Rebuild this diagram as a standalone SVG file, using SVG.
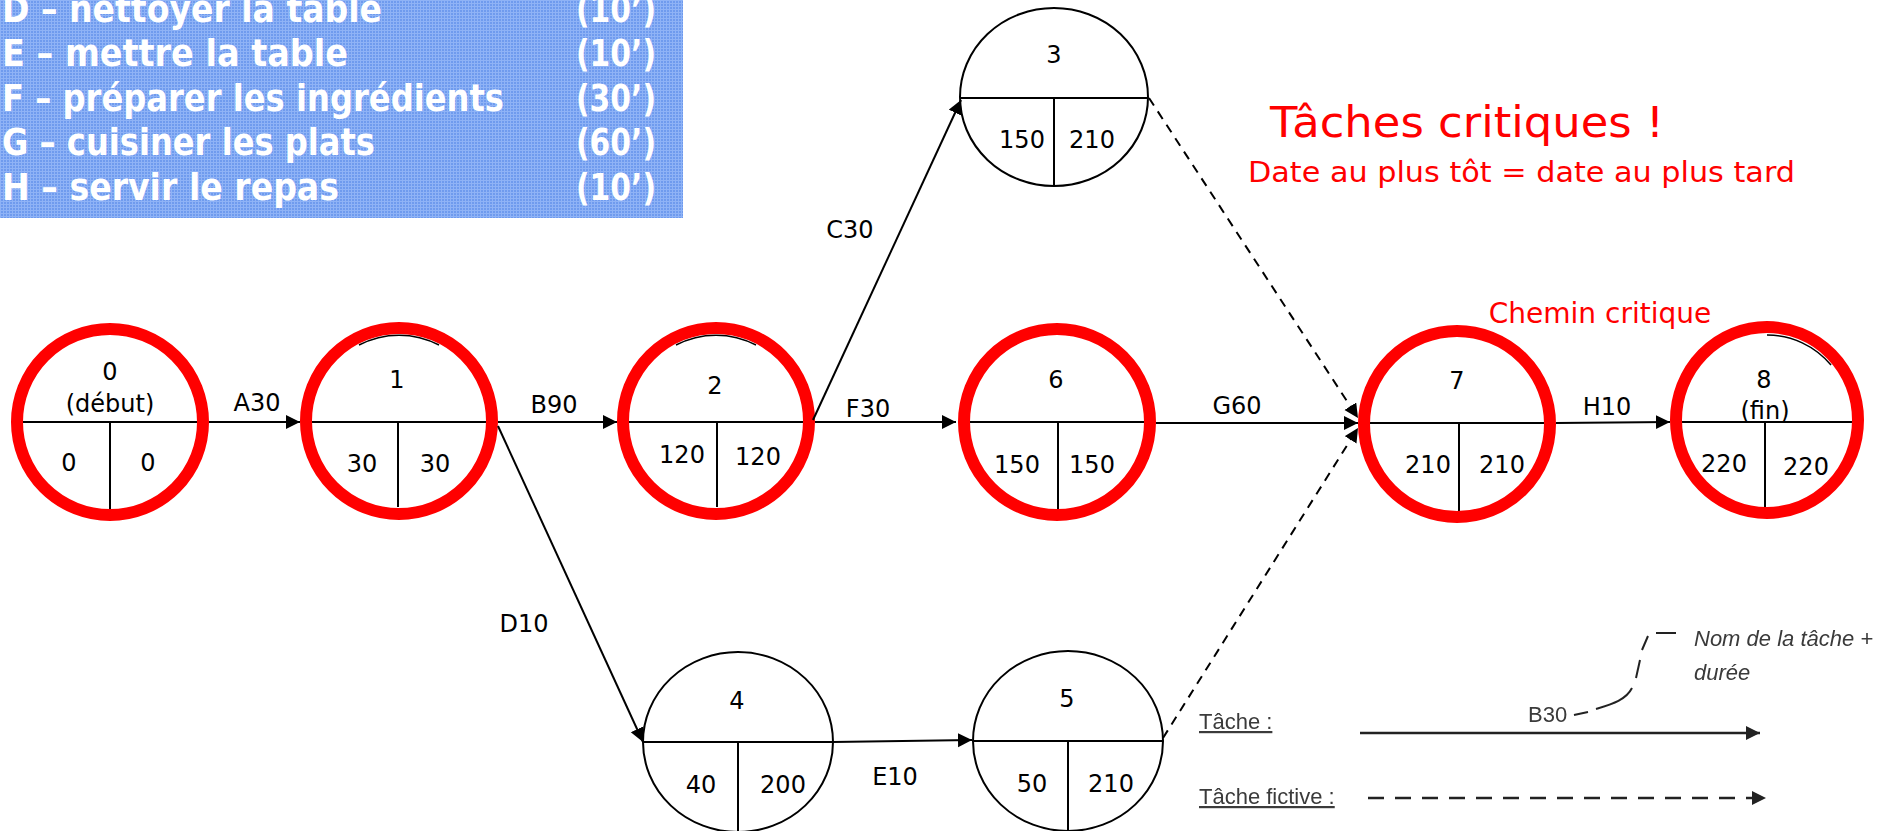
<svg xmlns="http://www.w3.org/2000/svg" width="1890" height="831" viewBox="0 0 1890 831">
  <defs>
    <pattern id="blueGrid" width="3" height="3" patternUnits="userSpaceOnUse">
      <rect width="3" height="3" fill="#6f9bee"/>
      <path d="M0 0.5H3M0.5 0V3" stroke="#8fb3f6" stroke-width="1"/>
    </pattern>
    <marker id="arrow" markerUnits="userSpaceOnUse" markerWidth="16" markerHeight="16" refX="14" refY="7" orient="auto">
      <path d="M0 0L14 7L0 14Z" fill="#000"/>
    </marker>
    <marker id="arrowGrey" markerUnits="userSpaceOnUse" markerWidth="16" markerHeight="16" refX="14" refY="7" orient="auto">
      <path d="M0 0L14 7L0 14Z" fill="#222"/>
    </marker>
    <filter id="soft" x="-5%" y="-20%" width="110%" height="140%">
      <feGaussianBlur stdDeviation="0.6"/>
    </filter>
  </defs>
  <style>
    .t { font-family: "DejaVu Sans", sans-serif; font-size: 24px; fill: #000; text-anchor: middle; }
    .oval { fill: #fff; stroke: #000; stroke-width: 2; }
    .ring { fill: none; stroke: #ff0000; stroke-width: 12; }
    .rule { stroke: #000; stroke-width: 2; fill: none; }
    .inner { stroke: #000; stroke-width: 1.5; fill: none; }
    .edge { stroke: #000; stroke-width: 2; fill: none; marker-end: url(#arrow); }
    .dummy { stroke-dasharray: 9 7; }
    .task { font-family: "DejaVu Sans", sans-serif; font-weight: bold; font-size: 38px; fill: #fff; }
    .red { font-family: "DejaVu Sans", sans-serif; fill: #ff0000; }
    .key { font-family: "Liberation Sans", Arial, sans-serif; font-size: 22px; fill: #3a3a3a; }
  </style>

  <rect width="1890" height="831" fill="#fff"/>

  <!-- task list panel -->
  <g id="task-list">
    <rect x="0" y="0" width="683" height="218" fill="url(#blueGrid)"/>
    <text class="task" x="2" y="22" textLength="380" lengthAdjust="spacingAndGlyphs">D – nettoyer la table</text>
    <text class="task" x="2" y="66" textLength="346" lengthAdjust="spacingAndGlyphs">E – mettre la table</text>
    <text class="task" x="2" y="111" textLength="502" lengthAdjust="spacingAndGlyphs">F – préparer les ingrédients</text>
    <text class="task" x="2" y="155" textLength="373" lengthAdjust="spacingAndGlyphs">G – cuisiner les plats</text>
    <text class="task" x="2" y="200" textLength="337" lengthAdjust="spacingAndGlyphs">H – servir le repas</text>
    <text class="task" x="576" y="22" textLength="80" lengthAdjust="spacingAndGlyphs">(10’)</text>
    <text class="task" x="576" y="66" textLength="80" lengthAdjust="spacingAndGlyphs">(10’)</text>
    <text class="task" x="576" y="111" textLength="80" lengthAdjust="spacingAndGlyphs">(30’)</text>
    <text class="task" x="576" y="155" textLength="80" lengthAdjust="spacingAndGlyphs">(60’)</text>
    <text class="task" x="576" y="200" textLength="80" lengthAdjust="spacingAndGlyphs">(10’)</text>
  </g>

  <!-- critical-task note -->
  <g id="note">
    <text class="red" x="1270" y="137" font-size="42" textLength="394" lengthAdjust="spacingAndGlyphs">Tâches critiques !</text>
    <text class="red" x="1248" y="182" font-size="29" textLength="547" lengthAdjust="spacingAndGlyphs">Date au plus tôt = date au plus tard</text>
    <text class="red" x="1600" y="323" font-size="28" text-anchor="middle">Chemin critique</text>
  </g>

  <!-- event nodes: number on top, earliest / latest dates below -->
  <g id="node-0">
    <ellipse class="oval" cx="110" cy="422" rx="93" ry="93"/>
    <path class="rule" d="M17 422H203M110 422V509"/>
    <text class="t" x="110" y="380">0</text>
    <text class="t" x="110" y="412">(début)</text>
    <text class="t" x="69" y="471">0</text>
    <text class="t" x="148" y="471">0</text>
    <ellipse class="ring" cx="110" cy="422" rx="93" ry="93"/>
  </g>

  <g id="node-1">
    <ellipse class="oval" cx="399" cy="421" rx="93" ry="93"/>
    <path class="rule" d="M306 422H492M398 422V507"/>
    <text class="t" x="397" y="388">1</text>
    <text class="t" x="362" y="472">30</text>
    <text class="t" x="435" y="472">30</text>
    <ellipse class="ring" cx="399" cy="421" rx="93" ry="93"/>
    <path class="inner" d="M359 345A86 86 0 0 1 439 345"/>
  </g>

  <g id="node-2">
    <ellipse class="oval" cx="716" cy="421" rx="93" ry="93"/>
    <path class="rule" d="M623 422H809M717 422V507"/>
    <text class="t" x="715" y="394">2</text>
    <text class="t" x="682" y="463">120</text>
    <text class="t" x="758" y="465">120</text>
    <ellipse class="ring" cx="716" cy="421" rx="93" ry="93"/>
    <path class="inner" d="M676 345A86 86 0 0 1 756 345"/>
  </g>

  <g id="node-3">
    <ellipse class="oval" cx="1054" cy="97" rx="94" ry="89"/>
    <path class="rule" d="M960 98H1148M1054 98V186"/>
    <text class="t" x="1054" y="63">3</text>
    <text class="t" x="1022" y="148">150</text>
    <text class="t" x="1092" y="148">210</text>
  </g>

  <g id="node-4">
    <ellipse class="oval" cx="738" cy="742" rx="95" ry="90"/>
    <path class="rule" d="M643 742H833M738 742V831"/>
    <text class="t" x="737" y="709">4</text>
    <text class="t" x="701" y="793">40</text>
    <text class="t" x="783" y="793">200</text>
  </g>

  <g id="node-5">
    <ellipse class="oval" cx="1068" cy="741" rx="95" ry="90"/>
    <path class="rule" d="M973 741H1163M1068 741V831"/>
    <text class="t" x="1067" y="707">5</text>
    <text class="t" x="1032" y="792">50</text>
    <text class="t" x="1111" y="792">210</text>
  </g>

  <g id="node-6">
    <ellipse class="oval" cx="1057" cy="422" rx="93" ry="93"/>
    <path class="rule" d="M964 422H1150M1058 422V509"/>
    <text class="t" x="1056" y="388">6</text>
    <text class="t" x="1017" y="473">150</text>
    <text class="t" x="1092" y="473">150</text>
    <ellipse class="ring" cx="1057" cy="422" rx="93" ry="93"/>
  </g>

  <g id="node-7">
    <ellipse class="oval" cx="1457" cy="424" rx="93" ry="93"/>
    <path class="rule" d="M1364 423H1550M1459 423V511"/>
    <text class="t" x="1457" y="389">7</text>
    <text class="t" x="1428" y="473">210</text>
    <text class="t" x="1502" y="473">210</text>
    <ellipse class="ring" cx="1457" cy="424" rx="93" ry="93"/>
  </g>

  <g id="node-8">
    <ellipse class="oval" cx="1767" cy="420" rx="91" ry="93"/>
    <path class="rule" d="M1676 422H1858M1765 422V507"/>
    <text class="t" x="1764" y="388">8</text>
    <text class="t" x="1765" y="419">(fin)</text>
    <text class="t" x="1724" y="472">220</text>
    <text class="t" x="1806" y="475">220</text>
    <ellipse class="ring" cx="1767" cy="420" rx="91" ry="93"/>
    <path class="inner" d="M1767 335A84 86 0 0 1 1831 365"/>
  </g>

  <!-- tasks (solid) and dummy tasks (dashed) -->
  <g id="connectors">
    <line class="edge" x1="209" y1="422" x2="300" y2="422"/>
    <line class="edge" x1="498" y1="422" x2="617" y2="422"/>
    <line class="edge" x1="815" y1="422" x2="956" y2="422"/>
    <line class="edge" x1="1156" y1="423" x2="1358" y2="423"/>
    <line class="edge" x1="1556" y1="423" x2="1670" y2="422"/>
    <line class="edge" x1="813" y1="420" x2="961" y2="100"/>
    <line class="edge" x1="498" y1="426" x2="643" y2="742"/>
    <line class="edge" x1="833" y1="742" x2="972" y2="740"/>
    <line class="edge dummy" x1="1149" y1="98" x2="1358" y2="418"/>
    <line class="edge dummy" x1="1163" y1="738" x2="1358" y2="428"/>

    <text class="t" x="257" y="411">A30</text>
    <text class="t" x="554" y="413">B90</text>
    <text class="t" x="850" y="238">C30</text>
    <text class="t" x="524" y="632">D10</text>
    <text class="t" x="895" y="785">E10</text>
    <text class="t" x="868" y="417">F30</text>
    <text class="t" x="1237" y="414">G60</text>
    <text class="t" x="1607" y="415">H10</text>
  </g>

  <!-- legend -->
  <g id="legend" filter="url(#soft)">
    <text class="key" x="1199" y="729" text-decoration="underline">Tâche :</text>
    <line x1="1360" y1="733" x2="1760" y2="733" stroke="#222" stroke-width="2.5" marker-end="url(#arrowGrey)"/>
    <text class="key" x="1528" y="722">B30</text>
    <path d="M1574 715L1588 712M1596 709C1612 704 1626 700 1632 688M1636 678L1640 660M1642 650L1648 636" stroke="#222" stroke-width="2" fill="none"/>
    <path d="M1656 633H1676" stroke="#222" stroke-width="2"/>
    <text class="key" x="1694" y="646" font-style="italic">Nom de la tâche +</text>
    <text class="key" x="1694" y="680" font-style="italic">durée</text>
    <text class="key" x="1199" y="804" text-decoration="underline">Tâche fictive :</text>
    <line x1="1368" y1="798" x2="1766" y2="798" stroke="#222" stroke-width="2.5" stroke-dasharray="16 11" marker-end="url(#arrowGrey)"/>
  </g>
</svg>
